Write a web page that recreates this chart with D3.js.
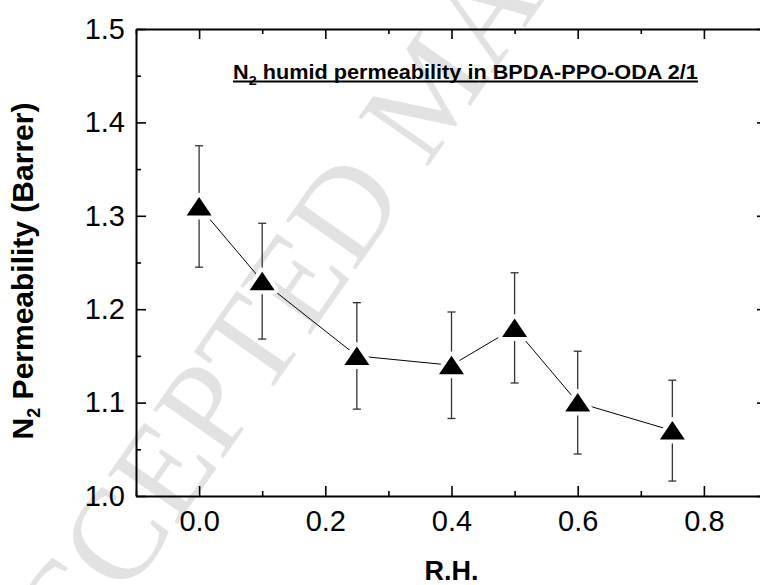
<!DOCTYPE html>
<html>
<head>
<meta charset="utf-8">
<script src="https://cdn.jsdelivr.net/npm/d3@7"></script>
<style>
  body { margin: 0; background: #fff; }
  svg { display: block; font-family: "Liberation Sans", Arial, sans-serif; }
  .axis path, .axis line { stroke: #000; }
  .axis path { stroke-width: 2; }
  .axis line { stroke-width: 1.6; }
</style>
</head>
<body>
<div id="chart"></div>
<script>
// relative humidity vs N2 permeability, error bars symmetric
const rh = [0, 0.1, 0.25, 0.4, 0.5, 0.6, 0.75];
const permeability = [1.31, 1.23, 1.15, 1.14, 1.18, 1.10, 1.07];
const errors = [0.065, 0.062, 0.057, 0.057, 0.059, 0.055, 0.054];
const xTicks = [0, 0.2, 0.4, 0.6, 0.8];
const xMinor = [-0.1, 0.1, 0.3, 0.5, 0.7, 0.9];
const yTicks = [1.0, 1.1, 1.2, 1.3, 1.4, 1.5];
const yMinor = [1.05, 1.15, 1.25, 1.35, 1.45];

const width = 760, height = 585;
const plot = { left: 136, top: 29, right: 767, bottom: 496 };

const svg = d3.select('#chart').append('svg')
    .attr('width', width).attr('height', height);

// watermark
svg.append('text')
    .attr('transform', 'translate(22,746) rotate(-55)')
    .attr('font-family', '"Liberation Serif", "Times New Roman", serif')
    .attr('font-size', 130)
    .attr('fill', '#e2e2e2')
    .text('ACCEPTED MANUSCRIPT');

const x = d3.scaleLinear().domain([-0.1, 0.9]).range([plot.left, plot.right]);
const y = d3.scaleLinear().domain([1.0, 1.5]).range([plot.bottom, plot.top]);

const fmt = d3.format('.1f');

// frame axes, ticks pointing inward
const drawAxis = (axis, tx, ty, major, minor, labels, pad) => {
    const g = svg.append('g').attr('class', 'axis')
        .attr('transform', `translate(${tx},${ty})`)
        .call(axis.tickValues(major).tickSizeInner(-10).tickSizeOuter(0)
            .tickPadding(pad).tickFormat(labels ? fmt : ''));
    g.append('g').call(axis.tickValues(minor).tickSizeInner(-5).tickFormat(''))
        .select('.domain').remove();
    g.selectAll('text').attr('font-size', 29).attr('fill', '#000')
        .attr('font-family', '"Liberation Sans", Arial, sans-serif');
    return g;
};

drawAxis(d3.axisBottom(x), 0, plot.bottom, xTicks, xMinor, true, 14);
drawAxis(d3.axisTop(x), 0, plot.top, xTicks, xMinor, false, 0);
drawAxis(d3.axisLeft(y), plot.left, 0, yTicks, yMinor, true, 11);
drawAxis(d3.axisRight(y), plot.right, 0, yTicks, yMinor, false, 0);

const points = rh.map((r, i) => ({ r, v: permeability[i], e: errors[i] }));

// error bars
const eb = svg.append('g').attr('stroke', '#333').attr('stroke-width', 1.3);
points.forEach(p => {
    const cx = x(p.r);
    eb.append('line').attr('x1', cx).attr('x2', cx).attr('y1', y(p.v + p.e)).attr('y2', y(p.v - p.e));
    eb.append('line').attr('x1', cx - 4).attr('x2', cx + 4).attr('y1', y(p.v + p.e)).attr('y2', y(p.v + p.e));
    eb.append('line').attr('x1', cx - 4).attr('x2', cx + 4).attr('y1', y(p.v - p.e)).attr('y2', y(p.v - p.e));
});

svg.append('path')
    .datum(points)
    .attr('fill', 'none').attr('stroke', '#000').attr('stroke-width', 1)
    .attr('d', d3.line().x(d => x(d.r)).y(d => y(d.v)));

const tri = 'M0,-9.5L12.5,9L-12.5,9Z';
const marks = svg.append('g').selectAll('g').data(points).join('g')
    .attr('transform', d => `translate(${x(d.r)},${y(d.v)})`);
marks.append('path').attr('d', tri).attr('fill', '#fff')
    .attr('stroke', '#fff').attr('stroke-width', 8).attr('stroke-linejoin', 'round');
marks.append('path').attr('d', tri).attr('fill', '#000');

// title with underline, glyphs a bit wide as in the source figure
const titleG = svg.append('g');
const title = titleG.append('text')
    .attr('font-size', 19.5).attr('font-weight', 'bold');
title.append('tspan').text('N');
title.append('tspan').attr('font-size', 13).attr('dy', 6).text('2');
title.append('tspan').attr('dy', -6).text(' humid permeability in BPDA-PPO-ODA 2/1');
const tw = title.node().getComputedTextLength();
const sx = 465 / tw;
titleG.attr('transform', `translate(233,79) scale(${sx},1)`);
titleG.append('line')
    .attr('x1', 0).attr('x2', tw).attr('y1', 2.5).attr('y2', 2.5)
    .attr('stroke', '#000').attr('stroke-width', 2);

// axis titles
const yl = svg.append('text')
    .attr('transform', 'translate(33,271) rotate(-90)')
    .attr('text-anchor', 'middle')
    .attr('font-size', 30).attr('font-weight', 'bold');
yl.append('tspan').text('N');
yl.append('tspan').attr('font-size', 18).attr('dy', 7).text('2');
yl.append('tspan').attr('dy', -7).text(' Permeability (Barrer)');

svg.append('text')
    .attr('x', x(0.4)).attr('y', 580)
    .attr('text-anchor', 'middle')
    .attr('font-size', 27).attr('font-weight', 'bold')
    .text('R.H.');
</script>
</body>
</html>
